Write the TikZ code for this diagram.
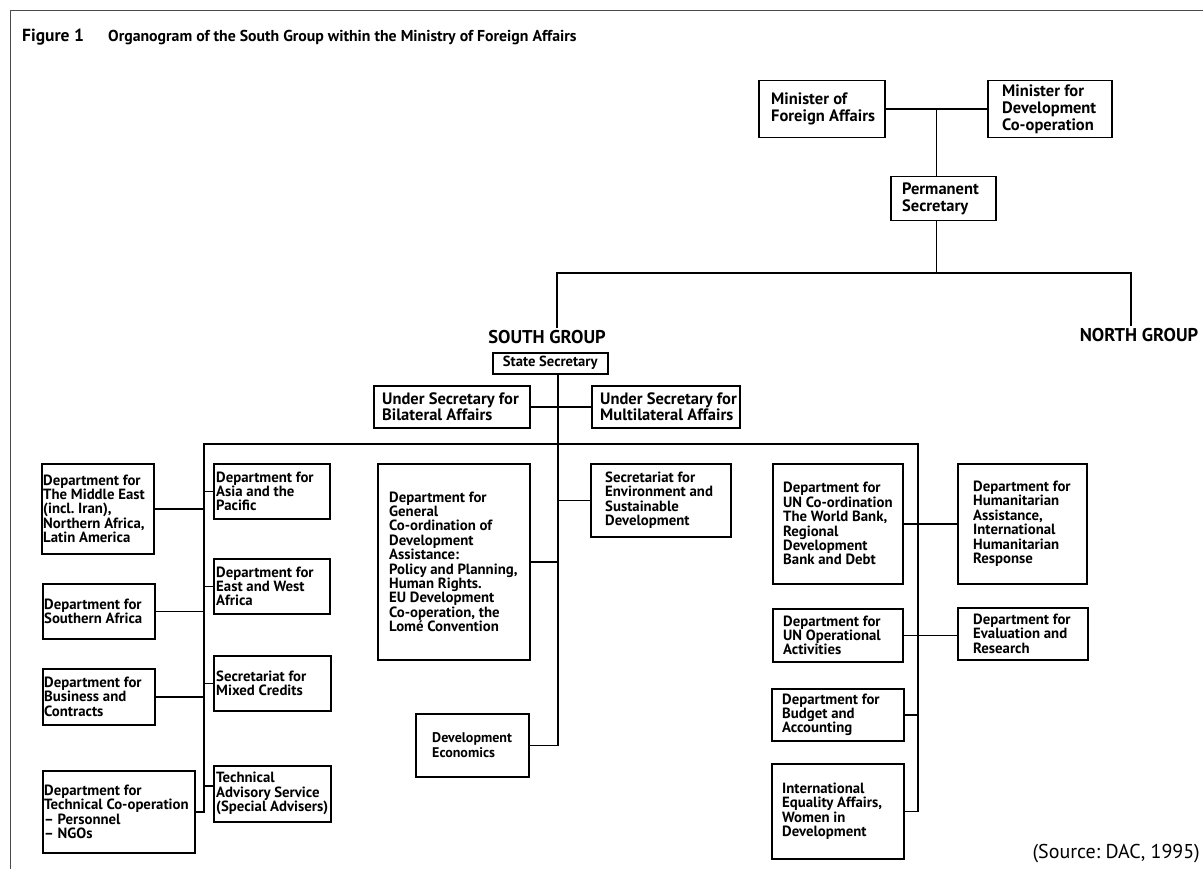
\documentclass[tikz,border=0pt]{standalone}
\usepackage{fontspec}
\setmainfont{PT Sans}
\usetikzlibrary{calc}
\frenchspacing

% \obox[text style]{name}{x0}{y0}{x1}{y1}{pad}{text}: framed box given by its
% corners, with its text set flush left at the given padding
\newcommand\obox[8][]{%
  \pgfmathsetmacro\obw{#5-#3}%
  \pgfmathsetmacro\obh{#6-#4}%
  \node[box,anchor=north west,minimum width=\obw pt,minimum height=\obh pt] (#2) at (#3,#4) {};
  \node[txt,#1,anchor=west] (#2-t) at ([xshift=#7pt]#2.west) {#8};}

\begin{document}
\begin{tikzpicture}[x=1pt,y=-1pt,
  box/.style={draw,line width=1.5pt,inner sep=0pt},
  txt/.style={align=left,inner sep=0pt,font=\bfseries\fontsize{14.8}{14.4}\selectfont},
  minister/.style={font=\bfseries\fontsize{16.5}{16.8}\selectfont},
  under/.style={font=\bfseries\fontsize{16.5}{16}\selectfont},
  small/.style={font=\bfseries\fontsize{14.6}{15}\selectfont},
  econ/.style={font=\bfseries\fontsize{14}{14.4}\selectfont},
  link/.style={line width=1.5pt},
  group/.style={font=\bfseries\fontsize{18.5}{20}\selectfont,inner sep=2pt},
  frame/.style={line width=0.8pt,black!70}]

\useasboundingbox (0,0) rectangle (1203,869);

% page frame and heading
\draw[frame] (1203,10) -- (10,10) -- (10,869);
\node[anchor=base west,inner sep=0pt,font=\bfseries\fontsize{17.5}{18}\selectfont] (fig) at (22,42) {Figure 1};
\node[anchor=base west,inner sep=0pt,font=\bfseries\fontsize{15.8}{18}\selectfont] (title) at (108,42)
  {Organogram of the South Group within the Ministry of Foreign Affairs};

% ministry top
\obox[minister]{mfa}{758}{80}{884}{137}{13}{Minister of\\Foreign Affairs}
\obox[minister]{mdc}{987}{80}{1111}{137}{15}{Minister for\\Development\\Co-operation}
\obox[minister]{ps}{890}{176}{995}{220}{12}{Permanent\\Secretary}

\node[group] (south) at (547,337) {SOUTH GROUP};
\node[group] (north) at (1139,335) {NORTH GROUP};

\coordinate (mj) at ($(mfa.east)!0.5!(mdc.west)$);
\coordinate (sbar) at (557,273);
\coordinate (nbar) at (1131,273);
\draw[link] (mfa.east) -- (mdc.west);
\draw[link] (mj) -- (mj |- ps.north);
\draw[link] (mj |- ps.south) -- (mj |- sbar);
\draw[link] (sbar |- south.north) -- (sbar) -- (nbar) -- (nbar |- north.north);

% south group head
\node[box,anchor=north west,minimum width=115pt,minimum height=21pt] (ss) at (492,352) {};
\node[txt,small] (ss-t) at (ss.center) {State Secretary};
\obox[under]{usb}{373}{385}{529}{427}{9}{Under Secretary for\\Bilateral Affairs}
\obox[under]{usm}{591}{385}{739}{427}{9}{Under Secretary for\\Multilateral Affairs}

% left branch
\obox{me}{41}{463}{153}{553}{2}{Department for\\The Middle East\\(incl. Iran),\\Northern Africa,\\Latin America}
\obox{sa}{42}{583}{154}{638}{2}{Department for\\Southern Africa}
\obox{bc}{42}{668}{154}{724}{2}{Department for\\Business and\\Contracts}
\obox{tc}{42}{770}{194}{852}{2}{Department for\\Technical Co-operation\\– Personnel\\– NGOs}
\obox{asia}{213}{463}{329}{518}{3}{Department for\\Asia and the\\Pacific}
\obox{ewa}{213}{558}{329}{613}{3}{Department for\\East and West\\Africa}
\obox{mc}{213}{655}{330}{710}{3}{Secretariat for\\Mixed Credits}
\obox{tas}{213}{765}{330}{821}{3}{Technical\\Advisory Service\\(Special Advisers)}

% centre branch
\obox{gc}{377}{463}{529}{659}{12}{Department for\\General\\Co-ordination of\\Development\\Assistance:\\Policy and Planning,\\Human Rights.\\EU Development\\Co-operation, the\\Lomé Convention}
\obox{sesd}{590}{463}{730}{536}{15}{Secretariat for\\Environment and\\Sustainable\\Development}
\obox[econ]{de}{415}{713}{528}{776}{17}{Development\\Economics}

% right branch
\obox{unc}{772}{463}{902}{583}{11}{Department for\\UN Co-ordination\\The World Bank,\\Regional\\Development\\Bank and Debt}
\obox{hum}{957}{463}{1086}{583}{16}{Department for\\Humanitarian\\Assistance,\\International\\Humanitarian\\Response}
\obox{uno}{772}{608}{902}{661}{11}{Department for\\UN Operational\\Activities}
\obox{eval}{957}{607}{1087}{659}{16}{Department for\\Evaluation and\\Research}
\obox{ba}{771}{688}{903}{740}{11}{Department for\\Budget and\\Accounting}
\obox{ie}{771}{763}{903}{858}{11}{International\\Equality Affairs,\\Women in\\Development}

% trunks
\coordinate (ctop) at (558,373);
\coordinate (lt) at (204,444);
\coordinate (rt) at (918,444);
\draw[link] (ctop) |- (de.east);
\draw[link] (usb.east) -- (usm.west);
\draw[link] (tc.east) -| (lt) -- (rt) |- (ie.east);

% left connectors
\draw[link] (me.east) -- (me.east -| lt);
\draw[link] (sa.east) -- (sa.east -| lt);
\draw[link] (bc.east) -- (bc.east -| lt);
\draw[link] (asia.west) -- (asia.west -| lt);
\draw[link] (ewa.west) -- (ewa.west -| lt);
\draw[link] (mc.west) -- (mc.west -| lt);
\draw[link] ([yshift=8pt]tas.west) -- ([yshift=8pt]tas.west -| lt);

% centre connectors
\draw[link] (gc.east) -- (gc.east -| ctop);
\draw[link] (sesd.west) -- (sesd.west -| ctop);

% right connectors
\draw[link] (unc.east) -- (unc.east -| hum.west);
\draw[link] (uno.east) -- (uno.east -| eval.west);
\draw[link] (ba.east) -- (ba.east -| rt);

% source
\node[anchor=base east,inner sep=0pt,font=\fontsize{20}{22}\selectfont] (src) at (1200,858) {(Source: DAC, 1995)};

\end{tikzpicture}
\end{document}
